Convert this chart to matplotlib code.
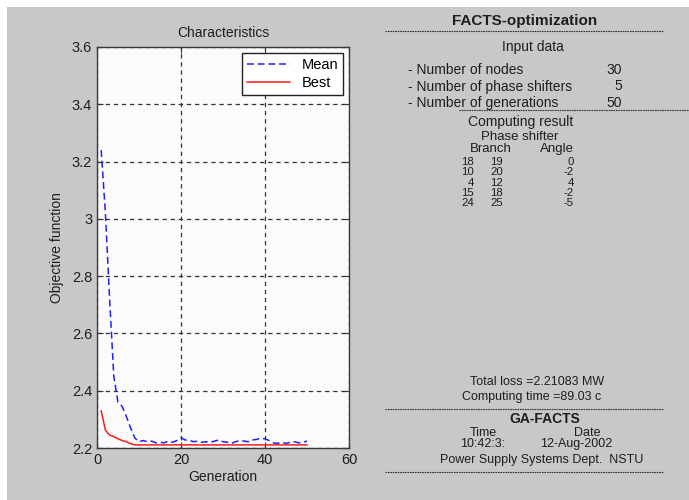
import matplotlib.pyplot as plt
from matplotlib.lines import Line2D
from matplotlib.patches import Rectangle

# Data
generations = list(range(1, 51))
mean_vals = [3.24, 3.02, 2.72, 2.45, 2.36, 2.345, 2.31, 2.27, 2.235, 2.222,
             2.226, 2.222, 2.224, 2.218, 2.220, 2.218, 2.224, 2.220, 2.226, 2.236,
             2.228, 2.226, 2.222, 2.224, 2.220, 2.222, 2.220, 2.224, 2.228, 2.222,
             2.220, 2.216, 2.222, 2.226, 2.224, 2.222, 2.228, 2.230, 2.234, 2.232,
             2.226, 2.218, 2.216, 2.220, 2.216, 2.220, 2.222, 2.218, 2.220, 2.224]
best_vals = [2.33, 2.262, 2.245, 2.24, 2.232, 2.226, 2.222, 2.215, 2.211, 2.2108,
             2.2108, 2.2108, 2.2108, 2.2108, 2.2108, 2.2108, 2.2108, 2.2108, 2.2108, 2.2108,
             2.2108, 2.2108, 2.2108, 2.2108, 2.2108, 2.2108, 2.2108, 2.2108, 2.2108, 2.2108,
             2.2108, 2.2108, 2.2108, 2.2108, 2.2108, 2.2108, 2.2108, 2.2108, 2.2108, 2.2108,
             2.2108, 2.2108, 2.2108, 2.2108, 2.2108, 2.2108, 2.2108, 2.2108, 2.2108, 2.2108]
yticks = [2.2, 2.4, 2.6, 2.8, 3.0, 3.2, 3.4, 3.6]
ytick_labels = ['2.2', '2.4', '2.6', '2.8', '3', '3.2', '3.4', '3.6']
xticks = [0, 20, 40, 60]

input_labels = ['- Number of nodes', '- Number of phase shifters', '- Number of generations']
input_values = ['30', '5', '50']
branch_from = ['18', '10', '4', '15', '24']
branch_to = ['19', '20', '12', '18', '25']
angles = ['0', '-2', '4', '-2', '-5']

W, H = 689, 500
BG = '#c8c8c8'
TXT = '#1e1e1e'
plt.rcParams['font.family'] = ['Liberation Sans', 'DejaVu Sans']

fig = plt.figure(figsize=(W / 100, H / 100), dpi=100, facecolor='white')
fig.add_artist(Rectangle((7 / W, 0), 1, 1 - 7 / H, transform=fig.transFigure,
                         facecolor=BG, edgecolor='none', zorder=-10))

ax = fig.add_axes([97 / W, 1 - 448 / H, 252 / W, 401 / H])
ax.set_facecolor('#fbfbfb')
ax.plot(generations, mean_vals, color='#2020ff', lw=1.1, dashes=(4.5, 2.5), label='Mean')
ax.plot(generations, best_vals, color='#ff1a1a', lw=1.1, label='Best')
ax.set_xlim(0, 60)
ax.set_ylim(2.2, 3.6)
ax.set_xticks(xticks)
ax.set_yticks(yticks)
ax.set_yticklabels(ytick_labels)
ax.tick_params(direction='in', top=True, right=True, labelsize=10.5,
               labelcolor=TXT, length=4, color='#333333')
ax.grid(True, color='#333333', linestyle=(0, (3.5, 3)), linewidth=0.9)
for s in ax.spines.values():
    s.set_color('#3a3a3a')
    s.set_linewidth(1.0)
ax.set_title('Characteristics', fontsize=10, color=TXT, pad=7)
ax.set_xlabel('Generation', fontsize=10, color=TXT, labelpad=2)
ax.set_ylabel('Objective function', fontsize=10, color=TXT, labelpad=6)
leg = ax.legend(loc='upper right', fontsize=10.5, fancybox=False, framealpha=1,
                edgecolor='#222222', handlelength=2.9, borderaxespad=0.4,
                borderpad=0.35, labelspacing=0.3)
leg.get_frame().set_linewidth(1.0)


def ftext(x, y, s, **kw):
    kw.setdefault('fontsize', 9.5)
    kw.setdefault('color', TXT)
    kw.setdefault('va', 'center')
    fig.text(x / W, 1 - y / H, s, **kw)


def fdash(x0, x1, y):
    fig.add_artist(Line2D([x0 / W, x1 / W], [1 - y / H, 1 - y / H],
                          transform=fig.transFigure, color='#333333',
                          lw=0.8, linestyle=(0, (1.5, 0.7))))


ftext(525, 21, 'FACTS-optimization', fontsize=11, fontweight='bold', ha='center')
fdash(385, 663, 31)
ftext(533, 47, 'Input data', fontsize=10, ha='center')
for i, (lab, val) in enumerate(zip(input_labels, input_values)):
    y = 70 + i * 16.5
    ftext(408, y, lab, fontsize=10, ha='left')
    ftext(622, y, val, fontsize=10, ha='right')
fdash(459, 689, 110)
ftext(521, 122, 'Computing result', fontsize=10, ha='center')
ftext(520, 137, 'Phase shifter', fontsize=9.5, ha='center')
ftext(491, 149, 'Branch', fontsize=9.5, ha='center')
ftext(557, 149, 'Angle', fontsize=9.5, ha='center')
for i in range(len(branch_from)):
    y = 162 + i * 10.3
    ftext(474, y, branch_from[i], fontsize=8.2, ha='right')
    ftext(503, y, branch_to[i], fontsize=8.2, ha='right')
    ftext(574, y, angles[i], fontsize=8.2, ha='right')

ftext(537, 382, 'Total loss =2.21083 MW', fontsize=9, ha='center')
ftext(532, 397, 'Computing time =89.03 c', fontsize=9, ha='center')
fdash(385, 663, 409)
ftext(545, 419, 'GA-FACTS', fontsize=10, fontweight='bold', ha='center')
ftext(483, 433, 'Time', fontsize=9, ha='center')
ftext(587, 433, 'Date', fontsize=9, ha='center')
ftext(483, 444, '10:42:3:', fontsize=9, ha='center')
ftext(576, 444, '12-Aug-2002', fontsize=9, ha='center')
ftext(542, 460, 'Power Supply Systems Dept.  NSTU', fontsize=9, ha='center')
fdash(385, 663, 472)

fig.savefig('out.png', dpi=100, facecolor=fig.get_facecolor())
